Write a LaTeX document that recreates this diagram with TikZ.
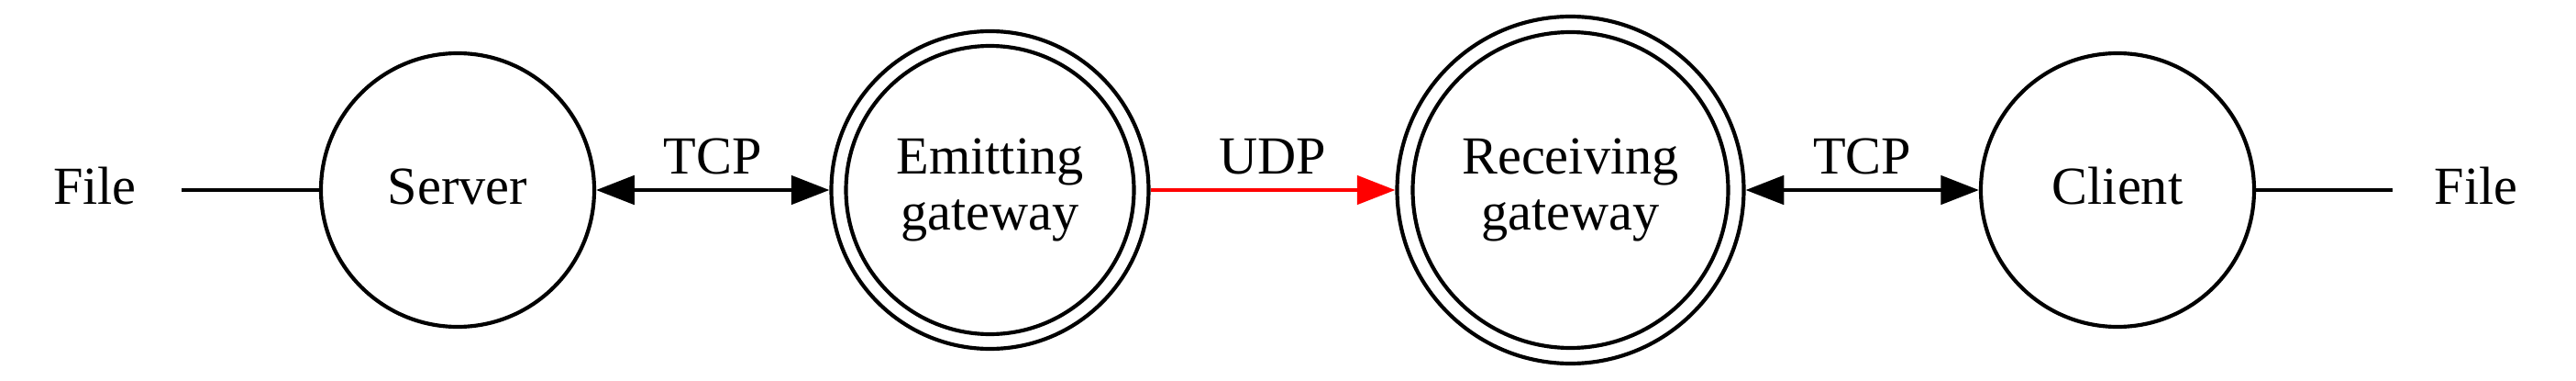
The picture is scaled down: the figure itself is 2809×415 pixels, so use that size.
\documentclass[tikz,border=0pt]{standalone}
\usepackage{fontspec}
\setmainfont{Liberation Serif}
\usetikzlibrary{arrows.meta}
\begin{document}
\begin{tikzpicture}[x=0.24pt, y=-0.24pt, line width=1pt,
  every node/.style={font=\fontsize{14pt}{14.76pt}\selectfont},
  state/.style={circle, draw, inner sep=0pt},
  txt/.style={text height=10.5pt, text depth=3.3pt},
  plain/.style={txt, inner sep=0pt},
  lab/.style={midway, above=3.6pt, inner sep=0pt, text=black},
  hd/.tip={Triangle[length=10pt,width=7.5pt]},
  onearrow/.style={-hd},
  twoarrow/.style={hd-hd}]
\useasboundingbox (0,0) rectangle (2809,415);

\node[plain, minimum width=44.4pt] (fileL) at (103.5,207) {File};
\node[state, txt, minimum size=71.52pt] (server) at (499,207) {Server};
\node[state, align=center, minimum size=83.04pt] (emit) at (1079.5,207) {Emitting\\gateway};
\node[state, minimum size=75.36pt] (emitin) at (emit.center) {};
\node[state, align=center, minimum size=90.72pt] (recv) at (1712.5,207) {Receiving\\gateway};
\node[state, minimum size=82.56pt] (recvin) at (recv.center) {};
\node[state, txt, minimum size=71.52pt] (client) at (2309,207) {Client};
\node[plain, minimum width=42.7pt] (fileR) at (2700,207) {File};

\draw (fileL.east) -- (server.west);
\draw[twoarrow] (server.east) -- node[lab]{TCP} (emit.west);
\draw[red, onearrow] (emit.east) -- node[lab]{UDP} (recv.west);
\draw[twoarrow] (recv.east) -- node[lab]{TCP} (client.west);
\draw (client.east) -- (fileR.west);
\end{tikzpicture}
\end{document}
